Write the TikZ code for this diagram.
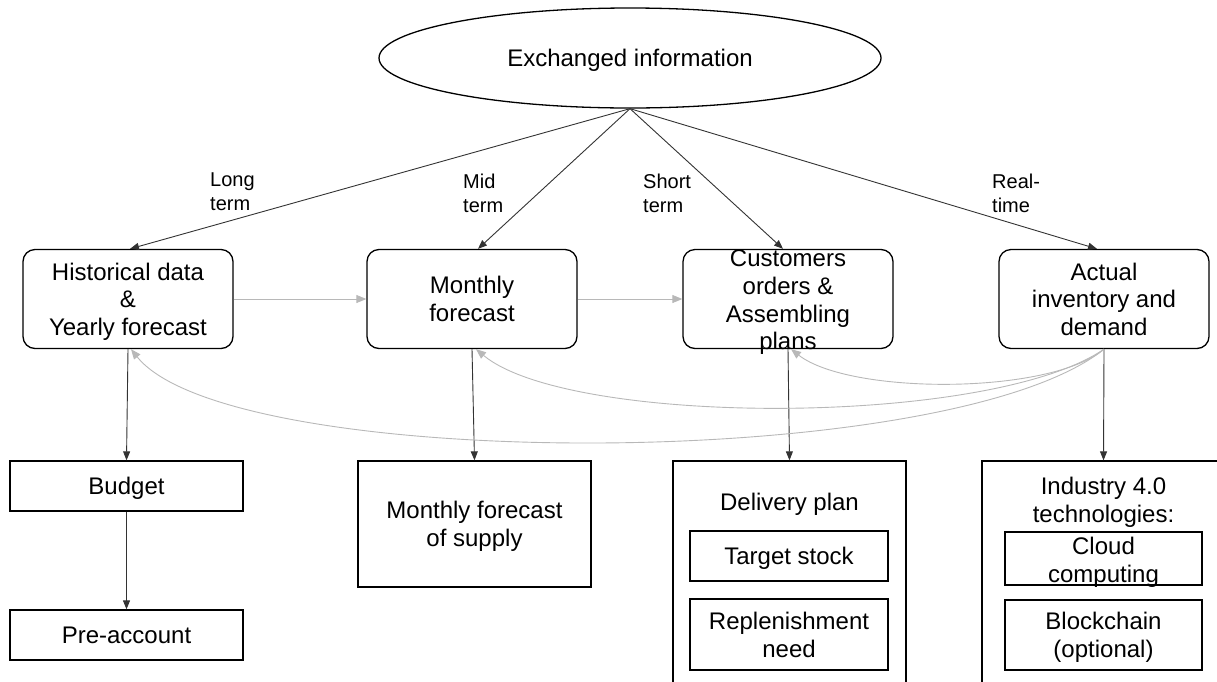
\documentclass[tikz,border=0pt]{standalone}
\usepackage{fontspec}
\setmainfont{Liberation Sans}
\usetikzlibrary{arrows.meta,shapes.geometric}
\begin{document}
\begin{tikzpicture}[x=1pt,y=-1pt,
  every node/.style={font=\fontsize{24}{27.6}\selectfont, align=center, inner sep=0pt, text depth=0pt},
  rbox/.style={draw, line width=1.3pt, rounded corners=12pt, minimum width=210pt, minimum height=99pt},
  sbox/.style={draw, line width=1.3pt, minimum width=233pt},
  ibox/.style={draw, line width=1.3pt, minimum width=198pt},
  lbl/.style={font=\fontsize{20}{23.5}\selectfont, align=left, anchor=north west},
  link/.style={line width=0.9pt, draw=black!80, -{Triangle[length=9pt,width=7pt]}},
  feed/.style={line width=0.9pt, draw=black!28, -{Triangle[length=10pt,width=8pt]}},
]
\useasboundingbox (0,0) rectangle (1217,681);
\clip (0,0) rectangle (1217,681);

% central source of information
\node[draw, ellipse, line width=1.3pt, minimum width=502pt, minimum height=100pt] (ex) at (630,58) {Exchanged information};

% planning horizons
\node[rbox] (hist) at (128,299) {Historical data\\\&\\Yearly forecast};
\node[rbox] (mon) at (472,299) {Monthly\\forecast};
\node[rbox] (cust) at (788,299) {};
\node (custtxt) at (788,300) {Customers\\orders \&\\Assembling\\plans};
\node[rbox] (act) at (1104,299) {Actual\\inventory and\\demand};

% horizon labels
\node[lbl] (lt) at (210,173) {Long\\term};
\node[lbl] (mt) at (463,174) {Mid\\term};
\node[lbl] (st) at (643,174) {Short\\term};
\node[lbl] (rt) at (992,174) {Real-\\time};

\draw[link] (ex.south) -- ([xshift=2pt]hist.north);
\draw[link] (ex.south) -- ([xshift=6pt]mon.north);
\draw[link] (ex.south) -- ([xshift=-5pt]cust.north);
\draw[link] (ex.south) -- ([xshift=-7pt]act.north);

\draw[feed] (hist.east) -- (mon.west);
\draw[feed] (mon.east) -- (cust.west);

% outputs
\node[sbox, minimum height=50pt] (bud) at (126.5,486) {Budget};
\node[sbox, minimum height=50pt] (pre) at (126.5,635) {Pre-account};
\node[sbox, minimum height=126pt] (sup) at (474.5,524) {Monthly forecast\\of supply};

\node[sbox, minimum height=240pt] (del) at (789.5,581) {};
\node (deltitle) at (789.5,502) {Delivery plan};
\node[ibox, minimum height=50pt] (tgt) at (789,556) {Target stock};
\node[ibox, minimum height=71pt] (rep) at (789,634.5) {Replenishment\\need};

\node[draw, line width=1.3pt, minimum width=243pt, minimum height=240pt] (ind) at (1103.5,581) {};
\node (indtitle) at (1103.5,500) {Industry 4.0\\technologies:};
\node[ibox, minimum width=197pt, minimum height=53pt] (cloud) at (1103.5,558.5) {};
\node (cloudtxt) at (1103.5,560) {Cloud\\computing};
\node[ibox, minimum width=197pt, minimum height=70pt] (blk) at (1103.5,635) {Blockchain\\(optional)};

\draw[link] (hist.south) -- (bud.north);
\draw[link] (bud.south) -- (pre.north);
\draw[link] (mon.south) -- (sup.north);
\draw[link] (cust.south) -- (del.north);
\draw[link] (act.south) -- (ind.north);

% feedback from real-time data
\draw[feed] (act.south) .. controls (1050,395) and (850,395) .. ([xshift=3pt]cust.south);
\draw[feed] (act.south) .. controls (990,427) and (570,427) .. ([xshift=4pt]mon.south);
\draw[feed] (act.south) .. controls (950,473) and (230,473) .. ([xshift=3pt]hist.south);
\end{tikzpicture}
\end{document}
